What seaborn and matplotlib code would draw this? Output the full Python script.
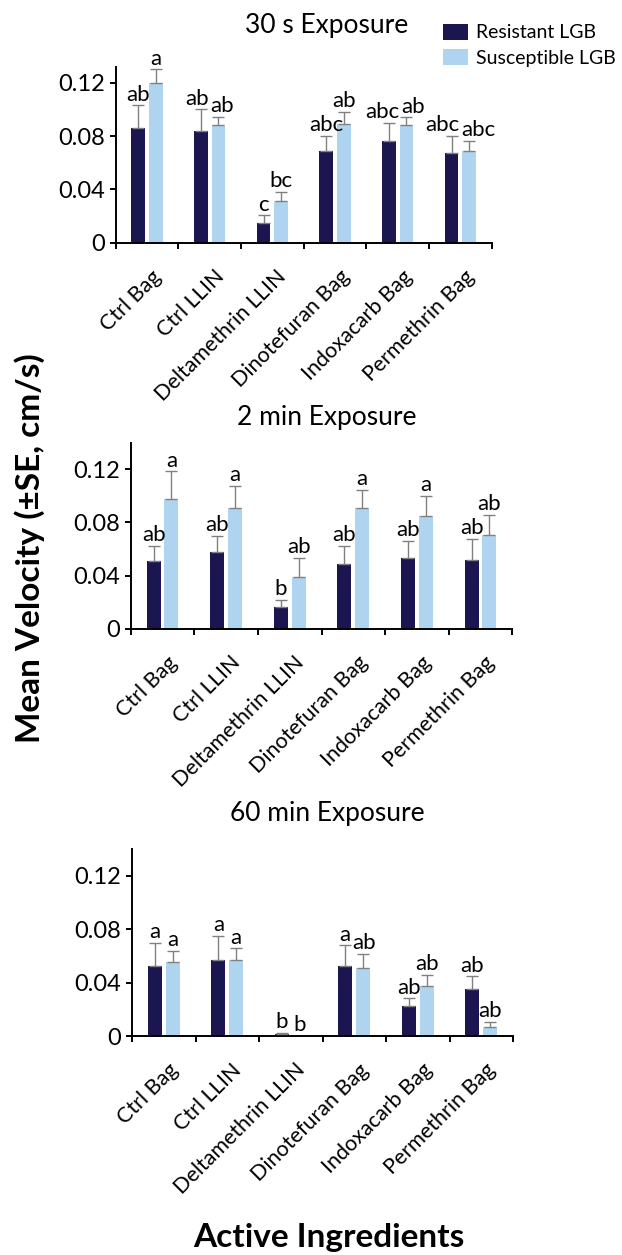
import numpy as np
import pandas as pd
import matplotlib
matplotlib.use("Agg")
import matplotlib.pyplot as plt
import matplotlib.transforms as mtransforms
from matplotlib.patches import Patch
from matplotlib.ticker import FuncFormatter
import seaborn as sns

# ---------------- data ----------------
categories = ["Ctrl Bag", "Ctrl LLIN", "Deltamethrin LLIN",
              "Dinotefuran Bag", "Indoxacarb Bag", "Permethrin Bag"]
strains = ["Resistant LGB", "Susceptible LGB"]
yticks = [0, 0.04, 0.08, 0.12]

res_mean_30s = [0.086, 0.084, 0.0145, 0.069, 0.076, 0.067]
res_se_30s = [0.017, 0.016, 0.006, 0.011, 0.014, 0.013]
sus_mean_30s = [0.120, 0.088, 0.031, 0.089, 0.088, 0.0685]
sus_se_30s = [0.010, 0.0065, 0.007, 0.009, 0.006, 0.008]
res_let_30s = ["ab", "ab", "c", "abc", "abc", "abc"]
sus_let_30s = ["a", "ab", "bc", "ab", "ab", "abc"]

res_mean_2m = [0.051, 0.058, 0.0163, 0.0487, 0.053, 0.052]
res_se_2m = [0.0115, 0.012, 0.0053, 0.0136, 0.013, 0.0155]
sus_mean_2m = [0.098, 0.091, 0.0387, 0.091, 0.085, 0.0706]
sus_se_2m = [0.0205, 0.0165, 0.0143, 0.0135, 0.0147, 0.0153]
res_let_2m = ["ab", "ab", "b", "ab", "ab", "ab"]
sus_let_2m = ["a", "a", "ab", "a", "a", "ab"]

res_mean_60m = [0.0527, 0.0569, 0.0015, 0.0527, 0.0226, 0.0355]
res_se_60m = [0.0173, 0.0181, 0.0007, 0.0151, 0.0057, 0.0092]
sus_mean_60m = [0.0554, 0.0569, 0.0, 0.051, 0.0373, 0.0072]
sus_se_60m = [0.0084, 0.0087, 0.0, 0.0104, 0.0087, 0.0035]
res_let_60m = ["a", "a", "b", "a", "ab", "ab"]
sus_let_60m = ["a", "a", "b", "ab", "ab", "ab"]

titles = ["30 s Exposure", "2 min Exposure", "60 min Exposure"]

# ---------------- style ----------------
sns.set_theme(style="ticks")
plt.rcParams["font.family"] = ["Lato", "DejaVu Sans"]
plt.rcParams["text.color"] = "black"
plt.rcParams["xtick.color"] = "black"
plt.rcParams["ytick.color"] = "black"

DARK = "#1b1650"
LIGHT = "#afd4f0"
ERR = "#808080"
W, H = 622, 1255
LETTER_FS = 16

fig = plt.figure(figsize=(W / 100, H / 100), dpi=100)

# axes placement in pixels: left, right, y of zero, ymax, px per 0.04
layout = [
    (115.7, 491.7, 242.7, 0.132, 53.3),
    (130.7, 512.3, 628.7, 0.140, 53.1),
    (132.0, 513.0, 1036.3, 0.140, 53.6),
]
title_y = [26, 417, 814]

panels = [
    (res_mean_30s, res_se_30s, sus_mean_30s, sus_se_30s, res_let_30s, sus_let_30s),
    (res_mean_2m, res_se_2m, sus_mean_2m, sus_se_2m, res_let_2m, sus_let_2m),
    (res_mean_60m, res_se_60m, sus_mean_60m, sus_se_60m, res_let_60m, sus_let_60m),
]

letter_pairs = []
for i, (pdata, (l, r, b, ymax, px04)) in enumerate(zip(panels, layout)):
    rm, rs, sm, ss, rl, sl = pdata
    hpx = ymax / 0.04 * px04
    ax = fig.add_axes([l / W, 1 - b / H, (r - l) / W, hpx / H])
    df = pd.DataFrame({
        "Ingredient": categories * 2,
        "Velocity": list(rm) + list(sm),
        "Strain": [strains[0]] * len(categories) + [strains[1]] * len(categories),
    })
    sns.barplot(data=df, x="Ingredient", y="Velocity", hue="Strain",
                palette=[DARK, LIGHT], width=0.56, gap=0.22, errorbar=None,
                saturation=1, legend=False, linewidth=0, ax=ax)
    texts = []
    for cont, means, ses, lets in zip(ax.containers, [rm, sm], [rs, ss], [rl, sl]):
        row = []
        for bar, m, s, lt in zip(cont, means, ses, lets):
            x = bar.get_x() + bar.get_width() / 2
            if s > 0:
                ax.errorbar(x, m, yerr=[[0], [s]], fmt="none", ecolor=ERR,
                            elinewidth=1.0, capsize=4.5, capthick=1.0, zorder=3)
            t = ax.annotate(lt, (x, m + s), xytext=(0, 3.5), textcoords="offset points",
                            ha="center", va="baseline", fontsize=LETTER_FS)
            row.append(t)
        texts.append(row)
    letter_pairs.extend(zip(texts[0], texts[1]))

    ax.set_ylim(0, ymax)
    ax.set_xlim(-0.5, len(categories) - 0.5)
    ax.set_yticks(yticks)
    ax.yaxis.set_major_formatter(FuncFormatter(lambda v, p: f"{v:g}"))
    ax.set_xlabel("")
    ax.set_ylabel("")
    sns.despine(ax=ax)
    for sp in ("left", "bottom"):
        ax.spines[sp].set_linewidth(1.4)
        ax.spines[sp].set_color("black")
    ax.tick_params(axis="y", length=4, width=1.4, labelsize=17, pad=4)
    ax.set_xticks(np.arange(-0.5, len(categories), 1.0), minor=True)
    ax.tick_params(axis="x", which="minor", length=4.5, width=1.4, direction="out")
    ax.tick_params(axis="x", which="major", length=0, pad=17, labelsize=15.5)
    offset = mtransforms.ScaledTranslation(4 / 100, 0, fig.dpi_scale_trans)
    for lbl in ax.get_xticklabels():
        lbl.set_rotation(45)
        lbl.set_ha("right")
        lbl.set_va("top")
        lbl.set_rotation_mode("anchor")
        lbl.set_transform(lbl.get_transform() + offset)
    fig.text(327 / W, 1 - title_y[i] / H, titles[i], ha="center", va="center",
             fontsize=19)

# push apart letter labels of the same group when they collide
fig.canvas.draw()
renderer = fig.canvas.get_renderer()
for td, tl in letter_pairs:
    bd = td.get_window_extent(renderer)
    bl = tl.get_window_extent(renderer)
    yover = min(bd.y1, bl.y1) - max(bd.y0, bl.y0)
    xover = bd.x1 - bl.x0
    if yover > 0 and xover > -2:
        shift_pt = (xover + 2) / 2 * 72 / fig.dpi
        td.xyann = (-shift_pt, td.xyann[1])
        tl.xyann = (shift_pt, tl.xyann[1])

handles = [Patch(facecolor=DARK, edgecolor="none"), Patch(facecolor=LIGHT, edgecolor="none")]
fig.legend(handles, strains, loc="upper left", bbox_to_anchor=(443 / W, 1 - 24 / H),
           frameon=False, fontsize=14, handlelength=1.3, handleheight=0.85,
           handletextpad=0.4, labelspacing=0.4, borderaxespad=0, borderpad=0)

fig.text(30 / W, 1 - 548 / H, "Mean Velocity (±SE, cm/s)", rotation=90,
         ha="center", va="center", fontsize=24, fontweight="bold")
fig.text(329 / W, 1 - 1237 / H, "Active Ingredients", ha="center", va="center",
         fontsize=24, fontweight="bold")

fig.savefig("out.png", dpi=100)
